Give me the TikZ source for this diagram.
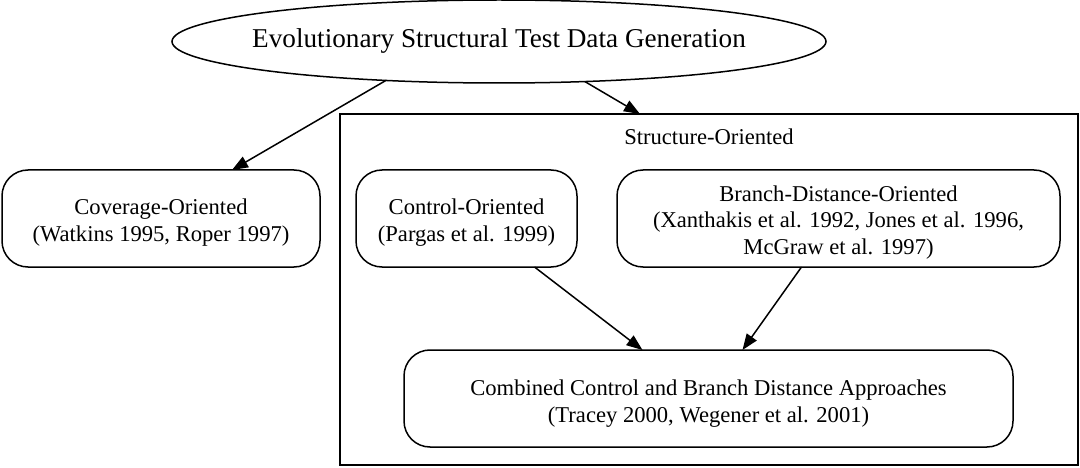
\documentclass[tikz,border=0pt]{standalone}
\usepackage{fontspec}
\setmainfont{Liberation Serif}
\usetikzlibrary{arrows.meta,calc,shapes.geometric}
\begin{document}
\begin{tikzpicture}[x=1pt,y=-1pt,
  every node/.style={inner sep=0pt, outer sep=0pt},
  small/.style={font=\fontsize{22.6}{26.5}\selectfont, align=center},
  rbox/.style={draw, line width=1.5pt, rounded corners=26pt},
  conn/.style={line width=1.5pt, -{Triangle[length=16pt,width=12pt]}}
]
\useasboundingbox (0,0) rectangle (1080,468);
\node[draw, ellipse, line width=1.5pt, minimum width=654pt, minimum height=83pt] (ell) at (499,41.5) {};
\node[font=\fontsize{27.2}{30}\selectfont] (title) at (ell.center) {Evolutionary Structural Test Data Generation};
\node[draw, line width=1.5pt, minimum width=738pt, minimum height=351pt] (clu) at (709,289.5) {};
\node[small] (clulab) at (709,137) {Structure-Oriented};
\node[rbox, minimum width=318pt, minimum height=97pt] (cov) at (161,218.5) {};
\node[small] (covt) at ($(cov.center)+(0,4)$) {Coverage-Oriented\\(Watkins 1995, Roper 1997)};
\node[rbox, minimum width=221pt, minimum height=97pt] (ctl) at (466.5,218.5) {};
\node[small] (ctlt) at ($(ctl.center)+(0,4)$) {Control-Oriented\\(Pargas et al. 1999)};
\node[rbox, minimum width=443pt, minimum height=97pt] (br) at (838.5,218.5) {};
\node[small] (brt) at ($(br.center)+(0,4)$) {Branch-Distance-Oriented\\(Xanthakis et al. 1992, Jones et al. 1996,\\McGraw et al. 1997)};
\node[rbox, minimum width=609pt, minimum height=97pt] (comb) at (708.5,398.5) {};
\node[small] (combt) at ($(comb.center)+(0,5)$) {Combined Control and Branch Distance Approaches\\(Tracey 2000, Wegener et al. 2001)};
\draw[conn] (ell.199) -- ($(cov.north)+(71,0)$);
\draw[conn] (ell.335) -- ($(clu.north)+(-69,0)$);
\draw[conn] ($(ctl.south)+(68,0)$) -- ($(comb.north)+(-66,0)$);
\draw[conn] ($(br.south)+(-37,0)$) -- ($(comb.north)+(34,0)$);
\end{tikzpicture}
\end{document}
